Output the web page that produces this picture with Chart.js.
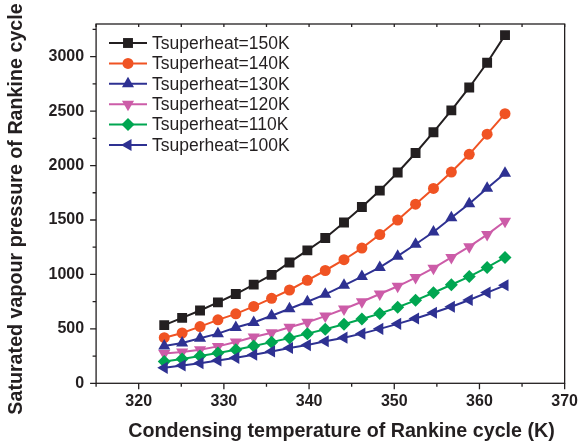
<!DOCTYPE html>
<html>
<head>
<meta charset="utf-8">
<script src="https://cdn.jsdelivr.net/npm/chart.js@4.4.1/dist/chart.umd.min.js"></script>
<style>
  html, body { margin: 0; padding: 0; background: #fff; }
  #wrap { width: 587px; height: 442px; }
</style>
</head>
<body>
<div id="wrap"><canvas id="chart"></canvas></div>
<script>
// condensing temperature (K)
const condTemp = [323.0, 325.1, 327.2, 329.3, 331.4, 333.5, 335.6, 337.7, 339.8, 341.9,
                  344.1, 346.2, 348.3, 350.4, 352.5, 354.6, 356.7, 358.8, 360.9, 363.0];

// saturated vapour pressure for each superheat
const p150 = [534, 601, 669, 743, 820, 906, 996, 1110, 1221, 1335, 1477, 1619, 1770, 1936, 2115, 2306, 2507, 2717, 2944, 3198];
const p140 = [419, 462, 521, 583, 638, 706, 780, 857, 946, 1036, 1135, 1242, 1366, 1499, 1645, 1790, 1940, 2103, 2288, 2476];
const p130 = [342, 370, 413, 456, 512, 558, 620, 685, 749, 817, 900, 980, 1064, 1168, 1277, 1390, 1520, 1649, 1792, 1930];
const p120 = [274, 287, 308, 339, 379, 425, 465, 515, 561, 617, 682, 749, 820, 891, 971, 1057, 1156, 1255, 1366, 1489];
const p110 = [200, 224, 250, 278, 308, 342, 378, 416, 456, 497, 542, 590, 640, 698, 762, 832, 905, 980, 1064, 1156];
const p100 = [142, 164, 185, 210, 234, 262, 293, 324, 351, 386, 419, 456, 500, 546, 595, 648, 703, 765, 833, 900];

const seriesNames = ['Tsuperheat=150K', 'Tsuperheat=140K', 'Tsuperheat=130K',
                     'Tsuperheat=120K', 'Tsuperheat=110K', 'Tsuperheat=100K'];

const xTickLabels = [320, 330, 340, 350, 360, 370];
const yTickLabels = [0, 500, 1000, 1500, 2000, 2500, 3000];

const xTitle = 'Condensing temperature of Rankine cycle (K)';
const yTitle = 'Saturated vapour pressure of Rankine cycle';

const ink = '#231f20';
const styles = [
  { color: '#231f20', shape: 'rect', rot: 0, r: 7 },
  { color: '#f05323', shape: 'circle', rot: 0, r: 5.5 },
  { color: '#2e3192', shape: 'triangle', rot: 0, r: 7 },
  { color: '#cc5ca8', shape: 'triangle', rot: 180, r: 7 },
  { color: '#00a651', shape: 'rectRot', rot: 0, r: 6.5 },
  { color: '#2e3192', shape: 'triangle', rot: -90, r: 7 }
];

const allSeries = [p150, p140, p130, p120, p110, p100];

const datasets = allSeries.map((vals, i) => ({
  label: seriesNames[i],
  data: vals.map((v, k) => ({ x: condTemp[k], y: v })),
  borderColor: styles[i].color,
  backgroundColor: styles[i].color,
  borderWidth: 2,
  pointStyle: styles[i].shape,
  pointRotation: styles[i].rot,
  pointRadius: styles[i].r,
  pointBorderWidth: 0,
  order: allSeries.length - i
}));

// frame, major/minor tick marks and the two axis titles
const axisMarks = {
  id: 'axisMarks',
  afterDraw(chart) {
    const { ctx, chartArea: a, scales: { x, y } } = chart;
    ctx.save();
    ctx.strokeStyle = ink;
    ctx.lineWidth = 1.3;
    ctx.strokeRect(a.left, a.top, a.right - a.left, a.bottom - a.top);
    ctx.beginPath();
    x.ticks.forEach(t => {
      const px = x.getPixelForValue(t.value);
      const len = xTickLabels.includes(t.value) ? 6 : 3.5;
      ctx.moveTo(px, a.bottom); ctx.lineTo(px, a.bottom + len);
      ctx.moveTo(px, a.top); ctx.lineTo(px, a.top + 3);
    });
    y.ticks.forEach(t => {
      const py = y.getPixelForValue(t.value);
      const len = yTickLabels.includes(t.value) ? 6 : 3.5;
      ctx.moveTo(a.left, py); ctx.lineTo(a.left - len, py);
    });
    ctx.stroke();

    ctx.fillStyle = ink;
    ctx.font = 'bold 19.7px "Liberation Sans", Arial, sans-serif';
    ctx.textAlign = 'center';
    ctx.textBaseline = 'alphabetic';
    ctx.fillText(xTitle, 341.5, 436.5);
    ctx.translate(17, 209);
    ctx.rotate(-Math.PI / 2);
    ctx.textBaseline = 'middle';
    ctx.fillText(yTitle, 0, 0);
    ctx.restore();
  }
};

// legend with line + marker samples, inside the plot
const lineLegend = {
  id: 'lineLegend',
  afterDraw(chart) {
    const { ctx } = chart;
    ctx.save();
    ctx.font = '17.5px "Liberation Sans", Arial, sans-serif';
    ctx.textBaseline = 'middle';
    chart.data.datasets.forEach((ds, i) => {
      const yy = 43 + i * 20.4;
      ctx.strokeStyle = ds.borderColor;
      ctx.fillStyle = ds.borderColor;
      ctx.lineWidth = 2;
      ctx.beginPath();
      ctx.moveTo(109, yy); ctx.lineTo(147, yy);
      ctx.stroke();
      Chart.helpers.drawPoint(ctx, {
        pointStyle: ds.pointStyle, rotation: ds.pointRotation,
        radius: ds.pointRadius, borderWidth: 0
      }, 128, yy);
      ctx.fillStyle = ink;
      ctx.fillText(ds.label, 152, yy + 1);
    });
    ctx.restore();
  }
};

const tickFont = { family: '"Liberation Sans", Arial, sans-serif', size: 16, weight: 'bold' };

new Chart(document.getElementById('chart'), {
  type: 'scatter',
  data: { datasets },
  options: {
    responsive: true,
    maintainAspectRatio: false,
    animation: false,
    showLine: true,
    layout: { padding: { left: 36.5, right: 8, top: 24, bottom: 21.5 } },
    plugins: { legend: { display: false }, tooltip: { enabled: false } },
    elements: { line: { tension: 0 } },
    scales: {
      x: {
        type: 'linear',
        min: 315, max: 370,
        afterBuildTicks: s => {
          const t = [];
          for (let v = 315; v <= 370; v += 5) t.push({ value: v });
          s.ticks = t;
        },
        ticks: {
          color: ink, font: tickFont, padding: 9, maxRotation: 0, autoSkip: false,
          callback: v => xTickLabels.includes(v) ? String(v) : ''
        },
        grid: { display: false, drawTicks: false },
        border: { display: false }
      },
      y: {
        type: 'linear',
        min: 0, max: 3300,
        afterBuildTicks: s => {
          const t = [];
          for (let v = 0; v <= 3250; v += 250) t.push({ value: v });
          s.ticks = t;
        },
        ticks: {
          color: ink, font: tickFont, padding: 12, autoSkip: false,
          callback: v => yTickLabels.includes(v) ? String(v) : ''
        },
        grid: { display: false, drawTicks: false },
        border: { display: false }
      }
    }
  },
  plugins: [axisMarks, lineLegend]
});
</script>
</body>
</html>
